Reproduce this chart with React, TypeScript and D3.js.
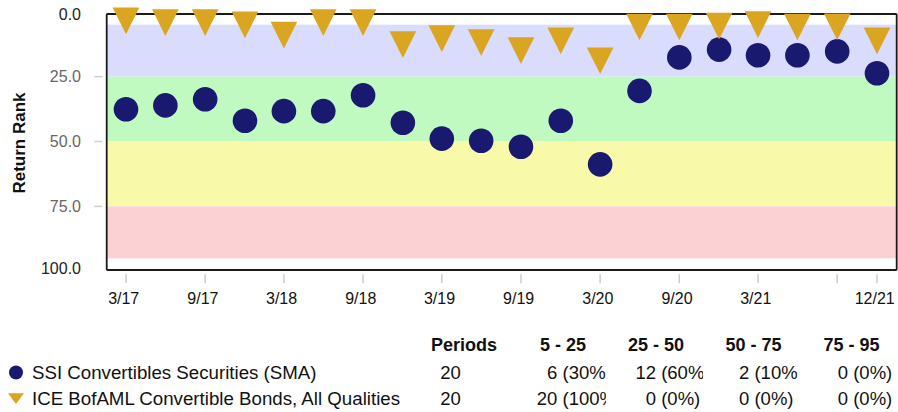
import React from 'react';
import * as d3 from 'd3';

const periodDates = [
  '2017-03-31', '2017-06-30', '2017-09-30', '2017-12-31',
  '2018-03-31', '2018-06-30', '2018-09-30', '2018-12-31',
  '2019-03-31', '2019-06-30', '2019-09-30', '2019-12-31',
  '2020-03-31', '2020-06-30', '2020-09-30', '2020-12-31',
  '2021-03-31', '2021-06-30', '2021-09-30', '2021-12-31',
];
const fundRanks = [37.6, 36.1, 33.7, 42.0, 38.3, 38.3, 32.2, 42.8, 48.9, 49.7, 52.0, 42.0, 58.8, 30.5, 17.6, 14.6, 16.8, 16.8, 15.3, 23.7];
const indexRanks = [3.5, 4.2, 4.2, 5.1, 9.0, 4.2, 4.2, 12.7, 10.4, 11.9, 15.0, 11.2, 18.9, 5.9, 5.9, 5.5, 5.0, 5.9, 5.8, 11.2];

const tickDates = ['2017-03-31', '2017-09-30', '2018-03-31', '2018-09-30', '2019-03-31', '2019-09-30', '2020-03-31', '2020-09-30', '2021-03-31', '2021-09-30', '2021-12-31'];
const tickLabels = ['3/17', '9/17', '3/18', '9/18', '3/19', '9/19', '3/20', '9/20', '3/21', '', '12/21'];
const yTicks = [0, 25, 50, 75, 100];
const bandEdges = [5, 25, 50, 75, 95];
const bandColors = ['#d9dcfc', '#c0fac0', '#f9f9aa', '#fcd1d4'];

const seriesNames = ['SSI Convertibles Securities (SMA)', 'ICE BofAML Convertible Bonds, All Qualities'];
const tableHeaders = ['Periods', '5 - 25', '25 - 50', '50 - 75', '75 - 95'];
const periodCounts = ['20', '20'];
const bucketCells = [
  ['6 (30%)', '12 (60%)', '2 (10%)', '0 (0%)'],
  ['20 (100%)', '0 (0%)', '0 (0%)', '0 (0%)'],
];

const FONT = '"Liberation Sans", Arial, Helvetica, sans-serif';
const NAVY = '#191970';
const GOLD = '#DAA520';

const parse = d3.timeParse('%Y-%m-%d');

function triPath(cx: number, cy: number, w: number, h: number) {
  return `M${cx - w / 2},${cy - h / 2}L${cx + w / 2},${cy - h / 2}L${cx},${cy + h / 2}Z`;
}

export default function App() {
  const frame = { left: 106.7, top: 14, right: 896.7, bottom: 270 };
  const dates = periodDates.map((d) => parse(d) as Date);
  const x = d3.scaleTime().domain([dates[0], dates[dates.length - 1]]).range([126, 877]);
  const y = d3.scaleLinear().domain([0, 100]).range([11.7, 271.3]);

  const headerX = [431, 540, 628, 725.5, 823.5];
  const cellX = [579.5, 673, 739, 865];
  const cellAnchor = ['middle', 'middle', 'start', 'middle'];
  const clipLefts = [520, 612, 710, 805];
  const clipRights = [606, 703, 797.5, 898];
  const rowBase = [378.5, 404.5];

  return (
    <svg width={898} height={412} style={{ position: 'absolute', left: 0, top: 0, fontFamily: FONT }}>
      <defs>
        {clipRights.map((r, i) => (
          <clipPath id={`cellclip${i}`} key={i}>
            <rect x={clipLefts[i]} y={355} width={r - clipLefts[i]} height={57} />
          </clipPath>
        ))}
      </defs>
      {/* bands */}
      {bandColors.map((c, i) => (
        <rect key={i} x={frame.left} y={y(bandEdges[i])} width={frame.right - frame.left}
          height={y(bandEdges[i + 1]) - y(bandEdges[i])} fill={c} />
      ))}
      {/* frame */}
      <rect x={frame.left} y={frame.top} width={frame.right - frame.left} height={frame.bottom - frame.top}
        fill="none" stroke="#1a1a1a" strokeWidth={1.8} rx={1} />
      {/* y axis */}
      {yTicks.map((t, i) => {
        const yy = Math.min(Math.max(y(t), frame.top), 268.5);
        const edge = i === 0 || i === yTicks.length - 1;
        return (
          <g key={t}>
            {!edge && <line x1={94.3} x2={102.3} y1={y(t)} y2={y(t)} stroke="#ccc" strokeWidth={1.5} />}
            <text x={81} y={yy} dy="0.35em" textAnchor="end" fontSize={16} fill={edge ? '#222' : '#666'}>
              {t.toFixed(1)}
            </text>
          </g>
        );
      })}
      <text transform={`translate(24.5,143) rotate(-90)`} textAnchor="middle" fontSize={17} fontWeight="bold" fill="#111">
        Return Rank
      </text>
      {/* x axis */}
      {tickDates.map((d, i) => {
        const xx = x(parse(d) as Date);
        return (
          <g key={d}>
            <line x1={xx} x2={xx} y1={274.3} y2={283.3} stroke="#ccc" strokeWidth={1.5} />
            {tickLabels[i] && (
              <text x={xx - 2.3} y={304} textAnchor="middle" fontSize={16} fill="#111">{tickLabels[i]}</text>
            )}
          </g>
        );
      })}
      {/* fund circles */}
      {fundRanks.map((v, i) => (
        <circle key={`c${i}`} cx={x(dates[i])} cy={y(v)} r={12.3} fill={NAVY} />
      ))}
      {/* index triangles */}
      {indexRanks.map((v, i) => (
        <path key={`t${i}`} d={triPath(x(dates[i]), y(v), 26.7, 26.7)} fill={GOLD} />
      ))}
      {/* legend */}
      <circle cx={16} cy={372.5} r={7} fill={NAVY} />
      <path d={triPath(16, 398.7, 16, 10.7)} fill={GOLD} />
      {seriesNames.map((n, i) => (
        <text key={n} x={32} y={rowBase[i]} fontSize={18.7} fill="#111">{n}</text>
      ))}
      {/* table */}
      {tableHeaders.map((h, i) => (
        <text key={h} x={headerX[i]} y={351} fontSize={18} fontWeight="bold" fill="#111">{h}</text>
      ))}
      {periodCounts.map((p, r) => (
        <text key={`p${r}`} x={440.3} y={rowBase[r]} fontSize={18.5} fill="#111">{p}</text>
      ))}
      {bucketCells.map((row, r) =>
        row.map((cell, c) => (
          <text key={`b${r}${c}`} x={cellX[c]} y={rowBase[r]} textAnchor={cellAnchor[c]} fontSize={18.5}
            fill="#111" clipPath={`url(#cellclip${c})`}>{cell}</text>
        ))
      )}
    </svg>
  );
}
